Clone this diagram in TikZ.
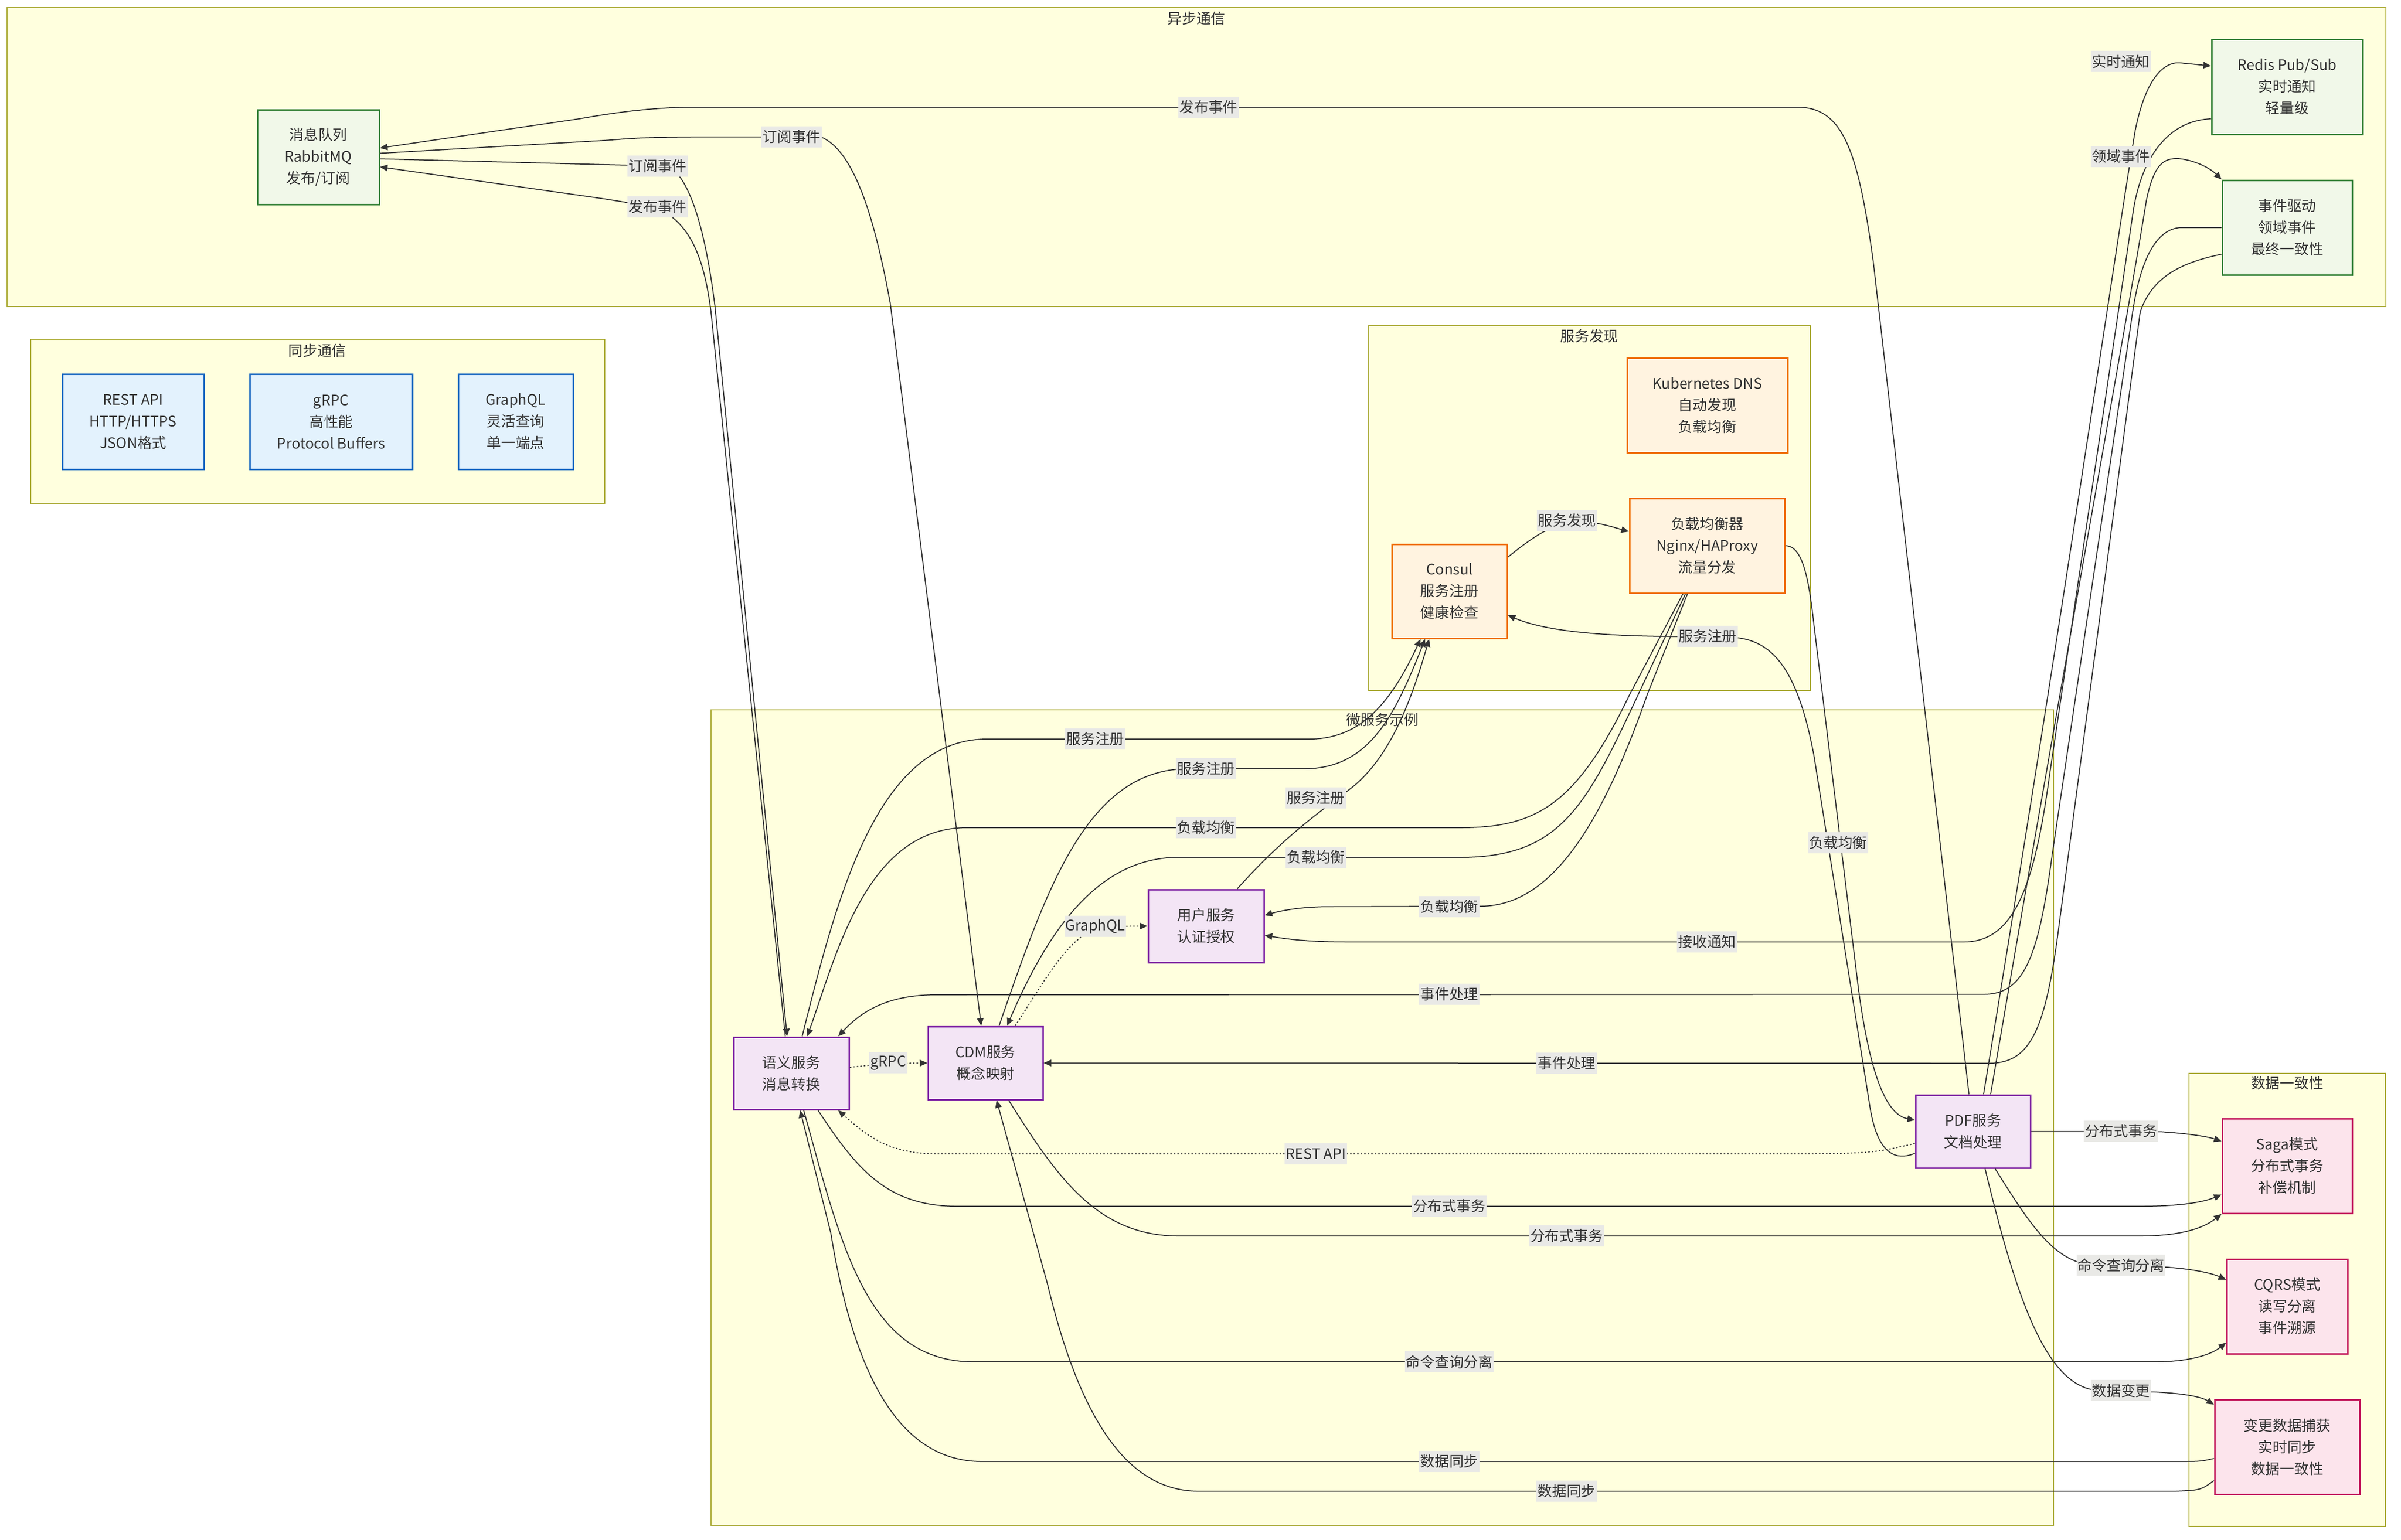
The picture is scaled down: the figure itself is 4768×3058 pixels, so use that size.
\documentclass[tikz,border=0pt]{standalone}
\usepackage{fontspec}
\setmainfont{Noto Sans CJK SC}
\usetikzlibrary{arrows.meta}
\definecolor{sgfill}{HTML}{FFFFDE}
\definecolor{sgline}{HTML}{AAAA33}
\definecolor{gfill}{HTML}{F1F8E9}
\definecolor{gline}{HTML}{2E7D32}
\definecolor{bfill}{HTML}{E3F2FD}
\definecolor{bline}{HTML}{1565C0}
\definecolor{ofill}{HTML}{FFF3E0}
\definecolor{oline}{HTML}{EF6C00}
\definecolor{pfill}{HTML}{F3E5F5}
\definecolor{pline}{HTML}{7B1FA2}
\definecolor{kfill}{HTML}{FCE4EC}
\definecolor{kline}{HTML}{C2185B}
\definecolor{txt}{HTML}{333333}
\definecolor{edgec}{HTML}{333333}
\definecolor{lblbg}{HTML}{E9E9E6}
\begin{document}
\begin{tikzpicture}[x=1pt,y=-1pt,
  font=\fontsize{28.8pt}{43pt}\selectfont,
  sg/.style={draw=sgline, fill=sgfill, line width=2pt},
  sgtitle/.style={text=txt, inner sep=0pt},
  basebox/.style={line width=3pt, align=center, text=txt, inner sep=0pt},
  sz/.style 2 args={minimum width=#1pt, minimum height=#2pt},
  greenbox/.style={basebox, draw=gline, fill=gfill},
  bluebox/.style={basebox, draw=bline, fill=bfill},
  orangebox/.style={basebox, draw=oline, fill=ofill},
  purplebox/.style={basebox, draw=pline, fill=pfill},
  pinkbox/.style={basebox, draw=kline, fill=kfill},
  conn/.style={draw=edgec, line width=2pt, -{Triangle[length=15pt,width=13pt]}},
  dconn/.style={conn, dash pattern=on 3pt off 4pt},
  lbl/.style={fill=lblbg, text=txt, inner xsep=2pt, inner ysep=0pt, minimum height=42pt}
]
\useasboundingbox (0,0) rectangle (4768,3058);
\fill[white] (0,0) rectangle (4768,3058);

% subgraphs
\draw[sg] (14,15) rectangle (4738,609);
\draw[sg] (61,674) rectangle (1201,1000);
\draw[sg] (2718,647) rectangle (3595,1372);
\draw[sg] (1412,1410) rectangle (4078,3030);
\draw[sg] (4347,2132) rectangle (4737,3032);
\node[sgtitle] (t1) at (2376,37) {异步通信};
\node[sgtitle] (t2) at (630,697) {同步通信};
\node[sgtitle] (t3) at (3156,668) {服务发现};
\node[sgtitle] (t4) at (2745,1430) {微服务示例};
\node[sgtitle] (t5) at (4542,2152) {数据一致性};

% nodes
\node[greenbox, sz={242}{188}] (mq) at (632,312) {消息队列\\RabbitMQ\\发布/订阅};
\node[greenbox, sz={300}{189}] (redis) at (4542,172.5) {Redis Pub/Sub\\实时通知\\轻量级};
\node[greenbox, sz={258}{188}] (event) at (4542,452) {事件驱动\\领域事件\\最终一致性};
\node[bluebox, sz={281}{189}] (rest) at (264.5,837.5) {REST API\\HTTP/HTTPS\\JSON格式};
\node[bluebox, sz={323}{189}] (grpc) at (657.5,837.5) {gRPC\\高性能\\Protocol Buffers};
\node[bluebox, sz={228}{189}] (gql) at (1024,837.5) {GraphQL\\灵活查询\\单一端点};
\node[orangebox, sz={319}{188}] (k8s) at (3390.5,805) {Kubernetes DNS\\自动发现\\负载均衡};
\node[orangebox, sz={308}{188}] (lb) at (3390,1084) {负载均衡器\\Nginx/HAProxy\\流量分发};
\node[orangebox, sz={229}{187}] (consul) at (2878.5,1174.5) {Consul\\服务注册\\健康检查};
\node[purplebox, sz={230}{145}] (user) at (2395,1839.5) {用户服务\\认证授权};
\node[purplebox, sz={229}{144}] (sem) at (1571.5,2132) {语义服务\\消息转换};
\node[purplebox, sz={228}{145}] (cdm) at (1957,2111.5) {CDM服务\\概念映射};
\node[purplebox, sz={228}{145}] (pdf) at (3918,2247.5) {PDF服务\\文档处理};
\node[pinkbox, sz={258}{188}] (saga) at (4542,2316) {Saga模式\\分布式事务\\补偿机制};
\node[pinkbox, sz={240}{188}] (cqrs) at (4542,2595) {CQRS模式\\读写分离\\事件溯源};
\node[pinkbox, sz={288}{188}] (cdc) at (4542,2874) {变更数据捕获\\实时同步\\数据一致性};

% dotted sync calls
\draw[dconn] ([yshift=12pt]sem.east) -- (1764,2112) -- (cdm.west);
\draw[dconn] ([xshift=59pt]cdm.north) .. controls (2080,1940) and (2130,1843) .. (2200,1840) -- (user.west);
\draw[dconn] ([yshift=-24pt]pdf.west) .. controls (3720,2290) .. (3600,2292) -- (1860,2292) .. controls (1760,2292) and (1715,2250) .. ([xshift=93pt]sem.south);

% service registration
\draw[conn] ([xshift=21.5pt]sem.north) .. controls (1660,1790) and (1740,1468) .. (1960,1468) -- (2600,1468) .. controls (2700,1468) and (2760,1400) .. ([xshift=-57.5pt]consul.south);
\draw[conn] ([xshift=27pt]cdm.north) .. controls (2080,1760) and (2160,1527) .. (2360,1527) -- (2590,1527) .. controls (2720,1527) and (2770,1420) .. ([xshift=-48.5pt]consul.south);
\draw[conn] ([xshift=62pt]user.north) .. controls (2560,1650) and (2640,1600) .. (2690,1560) .. controls (2760,1500) and (2800,1400) .. ([xshift=-40.5pt]consul.south);
\draw[conn] ([yshift=-43.5pt]pdf.west) .. controls (3755,2310) and (3725,2280) .. (3712,2190) -- (3602,1500) .. controls (3570,1330) and (3520,1270) .. (3440,1266) -- (3300,1264) .. controls (3150,1262) and (3060,1250) .. ([yshift=-47.5pt]consul.east);

% service discovery
\draw[conn] ([yshift=68pt]consul.east) .. controls (3040,1070) and (3080,1040) .. (3130,1036) .. controls (3170,1036) and (3200,1046) .. ([yshift=28pt]lb.west);

% load balancing
\draw[conn] ([xshift=-48pt]lb.south) -- (3236,1380) .. controls (3130,1600) and (3050,1644) .. (2900,1644) -- (1920,1644) .. controls (1720,1644) and (1660,1900) .. ([xshift=31.5pt]sem.north);
\draw[conn] ([xshift=-43pt]lb.south) -- (3253,1380) .. controls (3150,1600) and (3100,1703) .. (2900,1703) -- (2340,1703) .. controls (2180,1703) and (2080,1850) .. ([xshift=43pt]cdm.north);
\draw[conn] ([xshift=-39pt]lb.south) -- (3271,1380) .. controls (3180,1640) and (3080,1800) .. (2940,1800) -- (2640,1801) .. controls (2580,1801) and (2540,1810) .. ([yshift=21.5pt]user.east);
\draw[conn] (lb.east) .. controls (3580,1084) and (3592,1150) .. (3602,1240) -- (3690,1960) .. controls (3715,2150) and (3750,2215) .. ([yshift=22.5pt]pdf.west);

% message queue
\draw[conn] ([xshift=-8pt]pdf.north) -- (3720,520) .. controls (3690,300) and (3660,213) .. (3570,213) -- (1380,213) .. controls (1300,213) and (1230,222) .. (1150,236) -- ([yshift=18pt]mq.east);
\draw[conn] ([yshift=7.5pt]mq.east) -- (1200,279) .. controls (1280,273) .. (1400,272) -- (1630,272) .. controls (1700,300) and (1740,450) .. (1768,603) -- ([xshift=-8.5pt]cdm.north);
\draw[conn] ([yshift=-3.5pt]mq.east) -- (1200,327) -- (1330,330) .. controls (1370,360) and (1400,450) .. (1420,610) -- ([xshift=-8.5pt]sem.north);
\draw[conn] ([xshift=-12pt]sem.north) -- (1412,620) .. controls (1398,510) and (1370,440) .. (1300,411) -- (1200,395) -- ([yshift=-19.5pt]mq.east);

% redis and events
\draw[conn] ([xshift=21pt]pdf.north) .. controls (4100,1200) and (4200,500) .. (4240,260) .. controls (4262,150) and (4300,122) .. (4330,125) -- ([yshift=41.5pt]redis.west);
\draw[conn] ([xshift=35pt]pdf.north) .. controls (4120,1200) and (4230,600) .. (4262,400) .. controls (4278,320) and (4300,315) .. (4325,315) .. controls (4360,318) and (4390,335) .. (event.north west);
\draw[conn] ([yshift=-63.5pt]redis.west) .. controls (4300,240) and (4251,321) .. (4236,421) -- (4070,1540) .. controls (4040,1760) and (4000,1871) .. (3900,1871) -- (2680,1871) .. controls (2600,1871) and (2560,1866) .. ([yshift=-18.5pt]user.east);
\draw[conn] (event.west) -- (4330,452) .. controls (4280,455) and (4250,520) .. (4235,620) -- (4075,1700) .. controls (4048,1900) and (4020,1975) .. (3940,1975) -- (1860,1976) .. controls (1760,1976) and (1710,2010) .. ([xshift=93pt]sem.north);
\draw[conn] ([yshift=-53pt]event.west) .. controls (4340,520) and (4275,545) .. (4250,620) -- (4086,1860) .. controls (4060,2050) and (4030,2112) .. (3950,2112) -- (cdm.east);

% data consistency
\draw[conn] (pdf.east) -- (4290,2248) .. controls (4350,2252) and (4385,2258) .. ([yshift=49pt]saga.west);
\draw[conn] ([xshift=53pt]sem.south) .. controls (1700,2320) and (1760,2396) .. (1900,2396) -- (4250,2396) .. controls (4330,2396) and (4375,2388) .. ([yshift=-57pt]saga.west);
\draw[conn] ([xshift=46pt]cdm.south) .. controls (2100,2340) and (2180,2455) .. (2340,2455) -- (4250,2455) .. controls (4330,2455) and (4375,2440) .. (saga.south west);
\draw[conn] ([xshift=44pt]pdf.south) .. controls (4030,2430) and (4080,2510) .. (4160,2513) -- (4290,2516) .. controls (4350,2520) and (4390,2528) .. ([yshift=53pt]cqrs.west);
\draw[conn] ([xshift=24.5pt]sem.south) .. controls (1670,2470) and (1720,2705) .. (1933,2705) -- (4280,2705) .. controls (4350,2705) and (4392,2690) .. ([yshift=-72pt]cqrs.west);
\draw[conn] ([xshift=24pt]pdf.south) .. controls (4000,2560) and (4060,2760) .. (4170,2762) -- (4280,2765) .. controls (4340,2768) and (4372,2775) .. ([yshift=84pt]cdc.west);
\draw[conn] ([yshift=-23pt]cdc.west) .. controls (4370,2903) .. (4320,2903) -- (1950,2903) .. controls (1800,2903) and (1700,2760) .. (1650,2450) -- ([xshift=17.5pt]sem.south);
\draw[conn] ([yshift=-67pt]cdc.west) .. controls (4370,2960) .. (4320,2962) -- (2380,2962) .. controls (2230,2962) and (2140,2800) .. (2080,2550) -- ([xshift=22pt]cdm.south);

% edge labels
\node[lbl] (e1) at (2400,213) {发布事件};
\node[lbl] (e2) at (1572,272) {订阅事件};
\node[lbl] (e3) at (1306,330) {订阅事件};
\node[lbl] (e4) at (1306,411) {发布事件};
\node[lbl] (e5) at (4212,122) {实时通知};
\node[lbl] (e6) at (4212,311) {领域事件};
\node[lbl] (e7) at (3112,1034) {服务发现};
\node[lbl] (e8) at (3391,1264) {服务注册};
\node[lbl] (e9) at (2175,1468) {服务注册};
\node[lbl] (e10) at (2395,1527) {服务注册};
\node[lbl] (e11) at (2613,1585) {服务注册};
\node[lbl] (e12) at (2395,1644) {负载均衡};
\node[lbl] (e13) at (2613,1703) {负载均衡};
\node[lbl] (e14) at (2878,1801) {负载均衡};
\node[lbl] (e15) at (3650,1674) {负载均衡};
\node[lbl] (e16) at (2175,1840) {GraphQL};
\node[lbl] (e17) at (3390,1871) {接收通知};
\node[lbl] (e18) at (2878,1975) {事件处理};
\node[lbl] (e19) at (3111,2112) {事件处理};
\node[lbl] (e20) at (1764,2111) {gRPC};
\node[lbl] (e21) at (2613,2292) {REST API};
\node[lbl] (e22) at (4212,2247) {分布式事务};
\node[lbl] (e23) at (2878,2396) {分布式事务};
\node[lbl] (e24) at (3111,2455) {分布式事务};
\node[lbl] (e25) at (4212,2513) {命令查询分离};
\node[lbl] (e26) at (2878,2705) {命令查询分离};
\node[lbl] (e27) at (4212,2762) {数据变更};
\node[lbl] (e28) at (2878,2903) {数据同步};
\node[lbl] (e29) at (3111,2962) {数据同步};
\end{tikzpicture}
\end{document}
